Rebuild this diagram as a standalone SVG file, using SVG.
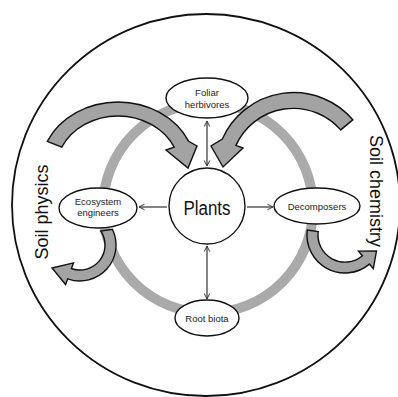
<svg xmlns="http://www.w3.org/2000/svg" width="398" height="397" viewBox="0 0 398 397">
  <defs>
    <style>
      .node { fill: #ffffff; stroke: #111111; stroke-width: 1.4; }
      .lbl { font-family: "Liberation Sans", Arial, sans-serif; font-size: 9.5px; fill: #222222; text-anchor: middle; }
      .big { font-family: "Liberation Sans", Arial, sans-serif; fill: #111111; text-anchor: middle; }
      .flow { fill: #a3a3a3; stroke: #111111; stroke-width: 1.4; stroke-linejoin: miter; }
      .link { stroke: #333333; stroke-width: 1.2; fill: none; }
    </style>
    <marker id="head" viewBox="0 0 10 10" refX="9" refY="5" markerWidth="7" markerHeight="7" orient="auto-start-reverse" markerUnits="userSpaceOnUse">
      <path d="M1,1 L9,5 L1,9" fill="none" stroke="#333333" stroke-width="1.4"/>
    </marker>
  </defs>

  <rect width="398" height="397" fill="#ffffff"/>

  <!-- soil boundary -->
  <ellipse cx="206" cy="205" rx="194" ry="191" fill="none" stroke="#111111" stroke-width="1.8"/>

  <!-- interaction ring -->
  <circle cx="208" cy="208" r="105" fill="none" stroke="#aaaaaa" stroke-width="10"/>

  <!-- feedback flows: curved block arrows built from elliptical arcs -->
  <g id="flows">
    <!-- soil physics -> plants -->
    <path class="flow" d="M47.3,141.3 A78,68 0 0 1 188.7,141.3 L197,146 L188,168 L166,150 L174.2,147.2 A62,54 0 0 0 61.8,147.2 Z"/>
    <!-- soil chemistry -> plants -->
    <path class="flow" d="M352.8,119.8 A78,78 0 0 0 222.3,139 L211,146 L223,167 L243,148 L235.9,145.4 A63,63 0 0 1 340.7,129.9 Z"/>
    <!-- ecosystem engineers -> soil physics -->
    <path class="flow" d="M112.4,229.2 A36,36 0 0 1 67.7,278.8 L65.6,284.5 L52,268 L73.5,262.9 L71.4,268.5 A25,25 0 0 0 100.7,231 Z"/>
    <!-- decomposers -> soil chemistry -->
    <path class="flow" d="M307.3,230 A38,38 0 0 0 369.4,264.1 L373.3,268.7 L376.5,251 L358.5,251.1 L362.4,255.7 A27,27 0 0 1 318.2,231.5 Z"/>
  </g>

  <!-- connectors -->
  <g id="connectors">
    <line class="link" x1="207" y1="121" x2="207" y2="166" marker-start="url(#head)" marker-end="url(#head)"/>
    <line class="link" x1="207" y1="246" x2="207" y2="299" marker-start="url(#head)" marker-end="url(#head)"/>
    <line class="link" x1="167" y1="207" x2="139" y2="207" marker-end="url(#head)"/>
    <line class="link" x1="247" y1="207" x2="273" y2="207" marker-end="url(#head)"/>
  </g>

  <g id="plants">
    <circle class="node" cx="207" cy="206" r="38"/>
    <text class="big" x="207" y="215" font-size="20" textLength="47" lengthAdjust="spacingAndGlyphs">Plants</text>
  </g>

  <g id="foliar-herbivores">
    <ellipse class="node" cx="207" cy="98" rx="41" ry="20"/>
    <text class="lbl" x="207" y="96">Foliar</text>
    <text class="lbl" x="207" y="108">herbivores</text>
  </g>

  <g id="ecosystem-engineers">
    <ellipse class="node" cx="98" cy="208" rx="39" ry="20"/>
    <text class="lbl" x="98" y="205">Ecosystem</text>
    <text class="lbl" x="98" y="216">engineers</text>
  </g>

  <g id="decomposers">
    <ellipse class="node" cx="317" cy="206" rx="43" ry="18"/>
    <text class="lbl" x="317" y="210">Decomposers</text>
  </g>

  <g id="root-biota">
    <ellipse class="node" cx="207" cy="318" rx="32" ry="18"/>
    <text class="lbl" x="207" y="322">Root biota</text>
  </g>

  <!-- compartment labels -->
  <text class="big" font-size="18" transform="translate(48,212) rotate(-90)">Soil physics</text>
  <text class="big" font-size="18" transform="translate(370,191) rotate(90)">Soil chemistry</text>
</svg>
